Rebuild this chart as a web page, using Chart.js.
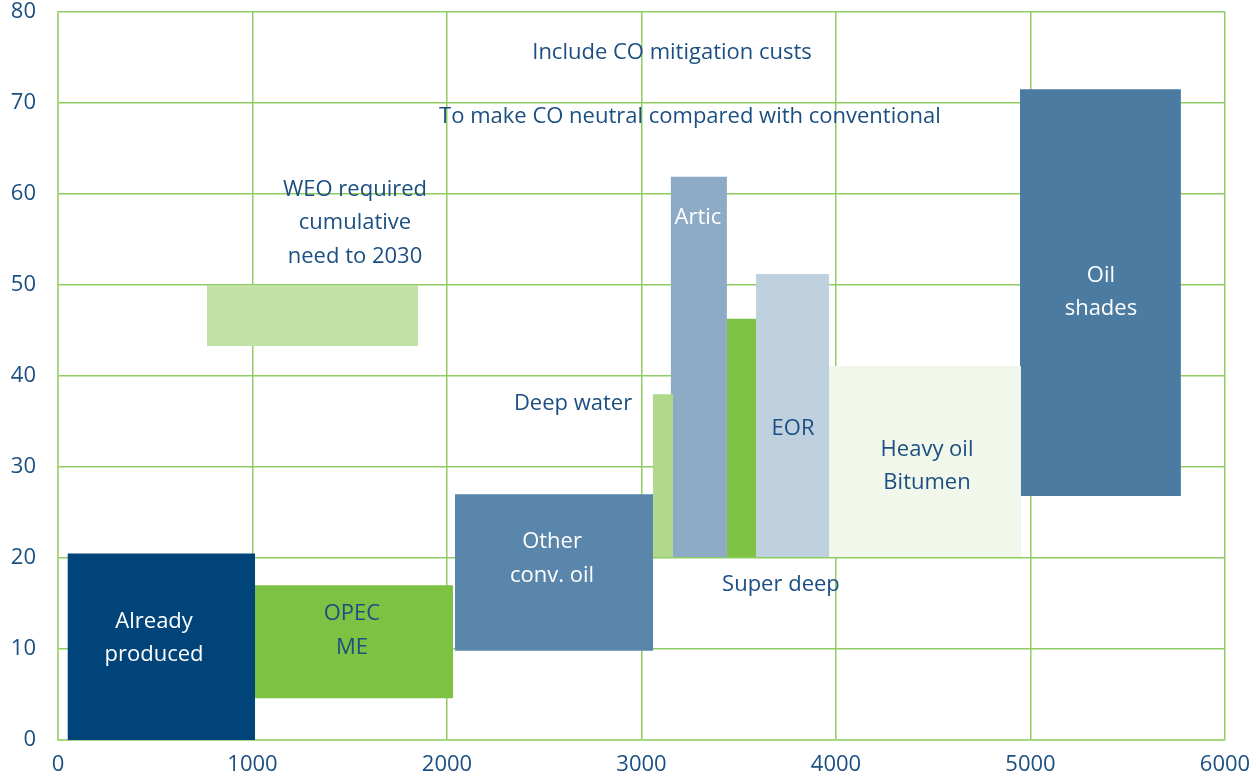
<!DOCTYPE html>
<html>
<head>
<meta charset="utf-8">
<script src="https://cdn.jsdelivr.net/npm/chart.js@4"></script>
<style>
  html, body { margin: 0; padding: 0; background: #fff; }
  #wrap { width: 1256px; height: 778px; }
</style>
</head>
<body>
<div id="wrap"><canvas id="costChart"></canvas></div>
<script>
// resources: cumulative volume (x, bn bbl) vs cost range (y, $/bbl)
const names   = ["Already produced", "OPEC ME", "Other conv. oil", "Deep water", "Artic", "Super deep", "EOR", "Heavy oil Bitumen", "Oil shades", "WEO required"];
const xStart  = [50, 1013, 2041, 3059, 3151, 3439, 3589, 3964, 4946, 766];
const xEnd    = [1013, 2031, 3059, 3162, 3439, 3589, 3964, 4951, 5773, 1851];
const yLow    = [0, 4.6, 9.8, 20.1, 20.1, 20.1, 20.1, 20.1, 26.8, 43.3];
const yHigh   = [20.5, 17.0, 27.0, 38.0, 61.9, 46.3, 51.2, 41.1, 71.5, 50.0];
const barColors = ["#00447a", "#7dc242", "#5a86ab", "#b0d98d", "#8dabc5", "#7dc242", "#bfd1df", "#f1f7eb", "#4b7ba0", "#c0e3a5"];

// text labels (lines, anchor in data units)
const labelText = [
  ["Include CO mitigation custs"],
  ["To make CO neutral compared with conventional"],
  ["WEO required", "cumulative", "need to 2030"],
  ["Deep water"],
  ["Artic"],
  ["EOR"],
  ["Heavy oil", "Bitumen"],
  ["Oil", "shades"],
  ["Super deep"],
  ["Other", "conv. oil"],
  ["OPEC", "ME"],
  ["Already", "produced"]
];
const labelX = [3157, 3249, 1527, 2648, 3290, 3779, 4468, 5362, 3717, 2540, 1511, 494];
const labelY = [75.5, 68.5, 56.8, 36.9, 57.4, 34.2, 30.1, 49.2, 17.1, 19.9, 12.0, 11.2];
const labelWhite = [false, false, false, false, true, false, false, true, false, true, false, true];

const xTicks = [0, 1000, 2000, 3000, 4000, 5000, 6000];
const yTicks = [0, 10, 20, 30, 40, 50, 60, 70, 80];

const FONT = "'Open Sans', 'Noto Sans', sans-serif";
const TEXT_BLUE = "#1b4f82";

const datasets = names.map((n, i) => ({
  label: n,
  data: [
    { x: xStart[i], y: yLow[i] },
    { x: xEnd[i], y: yLow[i] },
    { x: xEnd[i], y: yHigh[i] },
    { x: xStart[i], y: yHigh[i] },
    { x: xStart[i], y: yLow[i] }
  ],
  showLine: true,
  fill: "shape",
  backgroundColor: barColors[i],
  borderColor: barColors[i],
  borderWidth: 0,
  pointRadius: 0,
  tension: 0
}));

const labelsPlugin = {
  id: "boxLabels",
  afterDatasetsDraw(chart) {
    const ctx = chart.ctx;
    const xs = chart.scales.x, ys = chart.scales.y;
    ctx.save();
    ctx.font = "22px " + FONT;
    ctx.textAlign = "center";
    ctx.textBaseline = "middle";
    const lh = 33.5;
    labelText.forEach((lines, i) => {
      const cx = xs.getPixelForValue(labelX[i]);
      const cy = ys.getPixelForValue(labelY[i]);
      ctx.fillStyle = labelWhite[i] ? "#ffffff" : TEXT_BLUE;
      const top = cy - (lines.length - 1) * lh / 2;
      lines.forEach((t, k) => ctx.fillText(t, cx, top + k * lh));
    });
    ctx.restore();
  }
};

new Chart(document.getElementById("costChart"), {
  type: "scatter",
  data: { datasets: datasets },
  options: {
    responsive: true,
    maintainAspectRatio: false,
    animation: false,
    layout: { padding: { top: 12, right: 31, left: 0, bottom: 0 } },
    plugins: { legend: { display: false }, tooltip: { enabled: false } },
    scales: {
      x: {
        type: "linear",
        min: 0, max: 6000,
        afterBuildTicks: s => { s.ticks = xTicks.map(v => ({ value: v })); },
        afterFit: s => { s.height = 38; s.paddingLeft = 0; s.paddingRight = 0; },
        grid: { color: "#8fcc62", lineWidth: 1.5, drawTicks: false },
        border: { color: "#a6d884", width: 2 },
        ticks: { color: TEXT_BLUE, font: { family: FONT, size: 22 }, padding: 12, maxRotation: 0,
                 callback: v => String(v) }
      },
      y: {
        min: 0, max: 80,
        afterBuildTicks: s => { s.ticks = yTicks.map(v => ({ value: v })); },
        afterFit: s => { s.width = 58; s.paddingTop = 0; s.paddingBottom = 0; },
        grid: { color: "#8fcc62", lineWidth: 1.5, drawTicks: false },
        border: { color: "#a6d884", width: 2 },
        ticks: { color: TEXT_BLUE, font: { family: FONT, size: 22 }, padding: 22,
                 callback: v => String(v) }
      }
    }
  },
  plugins: [labelsPlugin]
});
</script>
</body>
</html>
